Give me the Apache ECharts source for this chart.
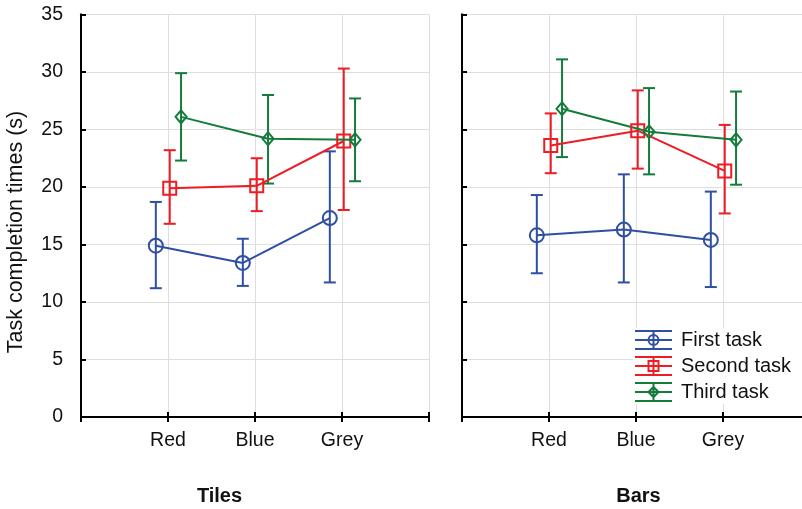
<!DOCTYPE html>
<html>
<head>
<meta charset="utf-8">
<script src="https://cdn.jsdelivr.net/npm/echarts@6/dist/echarts.min.js"></script>
<style>html,body{margin:0;padding:0;background:#fff}#c{width:802px;height:509px}</style>
</head>
<body>
<div id="c"></div>
<script>
// ---- data ----
var categories = ['Red', 'Blue', 'Grey'];
var panels = ['Tiles', 'Bars'];
var taskNames = ['First task', 'Second task', 'Third task'];
var yTicks = [0, 5, 10, 15, 20, 25, 30, 35];

var tilesFirstMean  = [14.9, 13.4, 17.3];
var tilesFirstLow   = [11.2, 11.4, 11.7];
var tilesFirstHigh  = [18.7, 15.5, 23.1];
var tilesSecondMean = [19.9, 20.1, 24.0];
var tilesSecondLow  = [16.8, 17.9, 18.0];
var tilesSecondHigh = [23.2, 22.5, 30.3];
var tilesThirdMean  = [26.1, 24.2, 24.1];
var tilesThirdLow   = [22.3, 20.3, 20.5];
var tilesThirdHigh  = [29.9, 28.0, 27.7];

var barsFirstMean  = [15.8, 16.3, 15.4];
var barsFirstLow   = [12.5, 11.7, 11.3];
var barsFirstHigh  = [19.3, 21.1, 19.6];
var barsSecondMean = [23.6, 24.9, 21.4];
var barsSecondLow  = [21.2, 21.6, 17.7];
var barsSecondHigh = [26.4, 28.4, 25.4];
var barsThirdMean  = [26.8, 24.8, 24.1];
var barsThirdLow   = [22.6, 21.1, 20.2];
var barsThirdHigh  = [31.1, 28.6, 28.3];

// ---- styles ----
var colors = ['#2f4fa2', '#ee1c25', '#137c3b'];
var dodge = [-0.14, 0.02, 0.15];
var symbols = ['circle', 'rect', 'diamond'];
var symbolSizes = [14, 13, [11, 13]];
var FONT = '"Liberation Sans", Arial, sans-serif';
var TXT = '#111';

var panelData = [
  [[tilesFirstMean, tilesFirstLow, tilesFirstHigh],
   [tilesSecondMean, tilesSecondLow, tilesSecondHigh],
   [tilesThirdMean, tilesThirdLow, tilesThirdHigh]],
  [[barsFirstMean, barsFirstLow, barsFirstHigh],
   [barsSecondMean, barsSecondLow, barsSecondHigh],
   [barsThirdMean, barsThirdLow, barsThirdHigh]]
];

var bars = 'M0 0L37 0L37 2L0 2Z M0 9L37 9L37 11L0 11Z M0 18L37 18L37 20L0 20Z M17.5 0L19.5 0L19.5 20L17.5 20Z ';
var icons = [
  'path://' + bars + 'M24.5 10A6 6 0 1 1 12.5 10A6 6 0 1 1 24.5 10Z M22.5 10A4 4 0 1 0 14.5 10A4 4 0 1 0 22.5 10Z',
  'path://' + bars + 'M12.5 4L24.5 4L24.5 16L12.5 16Z M14.5 6L14.5 14L22.5 14L22.5 6Z',
  'path://' + bars + 'M18.5 3.5L25 10L18.5 16.5L12 10Z M18.5 6.5L15 10L18.5 13.5L22 10Z'
];

var grids = [
  {left: 81, top: 14.5, width: 348, height: 402.5, outerBoundsMode: 'none', containLabel: false},
  {left: 462, top: 14.5, width: 348, height: 402.5, outerBoundsMode: 'none', containLabel: false}
];

var xAxes = [], yAxes = [], series = [];
panels.forEach(function (p, pi) {
  xAxes.push({
    type: 'value', gridIndex: pi, position: 'bottom', min: 0, max: categories.length + 1, interval: 1,
    axisLine: {lineStyle: {color: '#000', width: 2}},
    axisTick: {inside: true, length: 5, lineStyle: {color: '#000', width: 2}},
    axisLabel: {margin: 14, color: TXT, fontSize: 19.5, fontFamily: FONT,
      formatter: function (v) { return categories[v - 1] || ''; }},
    splitLine: {show: true, lineStyle: {color: '#dedede', width: 1}}
  });
  xAxes.push({
    type: 'value', gridIndex: pi, position: 'top', min: 0, max: categories.length + 1, interval: 1,
    axisLine: {lineStyle: {color: '#000', width: 2}},
    axisTick: {inside: true, length: 5, lineStyle: {color: '#000', width: 2}},
    axisLabel: {show: false}, splitLine: {show: false}
  });
  yAxes.push({
    type: 'value', gridIndex: pi, position: 'left', min: yTicks[0], max: yTicks[yTicks.length - 1], interval: 5,
    axisLine: {lineStyle: {color: '#000', width: 2}},
    axisTick: {inside: true, length: 5, lineStyle: {color: '#000', width: 2}},
    axisLabel: {show: pi === 0, margin: 18, color: TXT, fontSize: 19.5, fontFamily: FONT},
    splitLine: {show: true, lineStyle: {color: '#dedede', width: 1}}
  });
  yAxes.push({
    type: 'value', gridIndex: pi, position: 'right', min: yTicks[0], max: yTicks[yTicks.length - 1], interval: 5,
    axisLine: {lineStyle: {color: '#000', width: 2}},
    axisTick: {show: false}, axisLabel: {show: false}, splitLine: {show: false}
  });

  taskNames.forEach(function (tn, ti) {
    var d = panelData[pi][ti];
    var xAxisIndex = pi * 2, yAxisIndex = pi * 2;
    series.push({
      type: 'custom', name: tn, xAxisIndex: xAxisIndex, yAxisIndex: yAxisIndex, z: 3,
      data: categories.map(function (c, ci) { return [ci + 1 + dodge[ti], d[1][ci], d[2][ci]]; }),
      renderItem: function (params, api) {
        var lo = api.coord([api.value(0), api.value(1)]);
        var hi = api.coord([api.value(0), api.value(2)]);
        var w = 6;
        var st = {stroke: colors[ti], lineWidth: 2, fill: null};
        return {type: 'group', children: [
          {type: 'line', shape: {x1: lo[0], y1: lo[1], x2: hi[0], y2: hi[1]}, style: st},
          {type: 'line', shape: {x1: lo[0] - w, y1: lo[1], x2: lo[0] + w, y2: lo[1]}, style: st},
          {type: 'line', shape: {x1: hi[0] - w, y1: hi[1], x2: hi[0] + w, y2: hi[1]}, style: st}
        ]};
      },
      silent: true
    });
    series.push({
      type: 'line', name: tn, xAxisIndex: xAxisIndex, yAxisIndex: yAxisIndex, z: 4,
      data: categories.map(function (c, ci) { return [ci + 1 + dodge[ti], d[0][ci]]; }),
      symbol: symbols[ti], symbolSize: symbolSizes[ti], showSymbol: true,
      itemStyle: {color: 'rgba(255,255,255,0)', borderColor: colors[ti], borderWidth: 2},
      lineStyle: {color: colors[ti], width: 2},
      emphasis: {disabled: true},
      animation: false
    });
  });
});

var option = {
  animation: false,
  backgroundColor: '#fff',
  textStyle: {fontFamily: FONT},
  grid: grids,
  xAxis: xAxes,
  yAxis: yAxes,
  legend: {
    orient: 'vertical', left: 633, top: 328,
    itemWidth: 37, itemHeight: 20, itemGap: 6,
    backgroundColor: '#fff', padding: [2, 30, 2, 2],
    textStyle: {color: TXT, fontSize: 20, fontFamily: FONT, padding: [0, 0, 0, 4]},
    selectedMode: false,
    data: taskNames.map(function (tn, ti) {
      return {name: tn, icon: icons[ti], itemStyle: {color: colors[ti], borderWidth: 0}};
    })
  },
  graphic: [
    {type: 'text', x: 16, y: 232, rotation: Math.PI / 2,
      style: {text: 'Task completion times (s)', fill: TXT, font: '21.5px ' + FONT,
        align: 'center', verticalAlign: 'middle', textAlign: 'center', textVerticalAlign: 'middle'}},
    {type: 'text', x: 219.5, y: 496,
      style: {text: panels[0], fill: TXT, font: 'bold 20px ' + FONT,
        align: 'center', verticalAlign: 'middle', textAlign: 'center', textVerticalAlign: 'middle'}},
    {type: 'text', x: 638.5, y: 496,
      style: {text: panels[1], fill: TXT, font: 'bold 20px ' + FONT,
        align: 'center', verticalAlign: 'middle', textAlign: 'center', textVerticalAlign: 'middle'}}
  ],
  series: series
};

var chart = echarts.init(document.getElementById('c'), null, {renderer: 'canvas'});
chart.setOption(option);
</script>
</body>
</html>
